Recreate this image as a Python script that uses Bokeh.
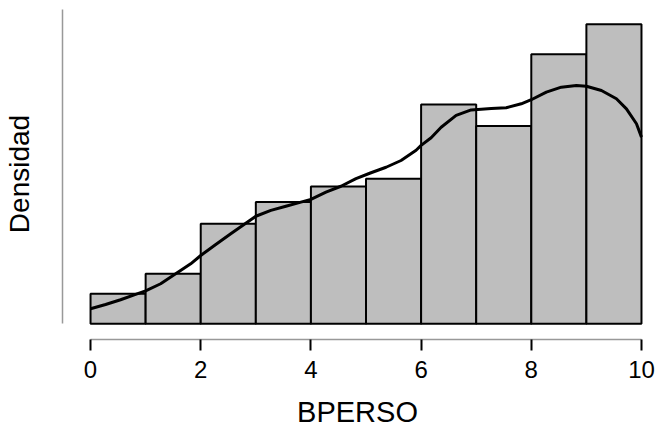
from bokeh.plotting import figure
from bokeh.models import FixedTicker, Range1d
from bokeh.embed import file_html
from bokeh.resources import INLINE

# Histogram (density scale), bins of width 1 from 0 to 10
bin_edges = [0, 1, 2, 3, 4, 5, 6, 7, 8, 9, 10]
densities = [0.0191, 0.0318, 0.0637, 0.0775, 0.0875, 0.0924, 0.1397, 0.1259, 0.1717, 0.1908]

# Kernel density curve
kde_x = [0.0, 0.273, 0.545, 0.818, 1.0, 1.273, 1.545, 1.818, 2.0, 2.273, 2.545, 2.818,
         3.0, 3.273, 3.545, 3.818, 4.0, 4.273, 4.545, 4.818, 5.091, 5.364, 5.636, 5.909,
         6.0, 6.182, 6.364, 6.636, 6.909, 7.273, 7.545, 7.818, 8.0, 8.273, 8.545, 8.818,
         9.0, 9.273, 9.545, 9.727, 9.909, 10.0]
kde_y = [0.0096, 0.0123, 0.0153, 0.0187, 0.0210, 0.0255, 0.0318, 0.0382, 0.0435, 0.0505, 0.0573, 0.0640,
         0.0685, 0.0722, 0.0749, 0.0775, 0.0792, 0.0838, 0.0876, 0.0924, 0.0962, 0.0997, 0.1040, 0.1105,
         0.1136, 0.1185, 0.1252, 0.1327, 0.1362, 0.1371, 0.1376, 0.1401, 0.1427, 0.1475, 0.1507, 0.1518,
         0.1513, 0.1486, 0.1433, 0.1369, 0.1274, 0.1189]

x_ticks = [0, 2, 4, 6, 8, 10]
x_label = "BPERSO"
y_label = "Densidad"

FONT = "Liberation Sans"

p = figure(width=657, height=432, output_backend="svg", toolbar_location=None,
           x_range=Range1d(-0.509, 10.2), y_range=Range1d(-0.0100, 0.2008),
           min_border_left=62, min_border_right=5, min_border_top=8, min_border_bottom=93)

p.quad(left=bin_edges[:-1], right=bin_edges[1:], bottom=0, top=densities,
       fill_color="#BEBEBE", line_color="black", line_width=2)
p.line(kde_x, kde_y, line_color="black", line_width=3, line_join="round")

p.grid.visible = False
p.outline_line_color = None
p.background_fill_color = "white"
p.border_fill_color = "white"

xa = p.xaxis[0]
xa.ticker = FixedTicker(ticks=x_ticks)
xa.minor_tick_line_color = None
xa.bounds = (0, 10)
xa.axis_line_color = "#999999"
xa.axis_line_width = 1.5
xa.major_tick_line_color = "black"
xa.major_tick_line_width = 2
xa.major_tick_out = 11
xa.major_tick_in = 0
xa.major_label_text_font = FONT
xa.major_label_text_font_size = "24px"
xa.major_label_text_color = "black"
xa.major_label_standoff = 10
xa.axis_label = x_label
xa.axis_label_text_font = FONT
xa.axis_label_text_font_size = "29px"
xa.axis_label_text_font_style = "normal"
xa.axis_label_text_color = "black"
xa.axis_label_standoff = 15

ya = p.yaxis[0]
ya.ticker = FixedTicker(ticks=[])
ya.minor_tick_line_color = None
ya.major_tick_line_color = None
ya.major_label_text_font_size = "0px"
ya.bounds = (0, 0.2)
ya.axis_line_color = "#999999"
ya.axis_line_width = 1.5
ya.axis_label = y_label
ya.axis_label_text_font = FONT
ya.axis_label_text_font_size = "28px"
ya.axis_label_text_font_style = "normal"
ya.axis_label_text_color = "black"
ya.axis_label_standoff = 28

open("out.html", "w").write(file_html(p, INLINE))
